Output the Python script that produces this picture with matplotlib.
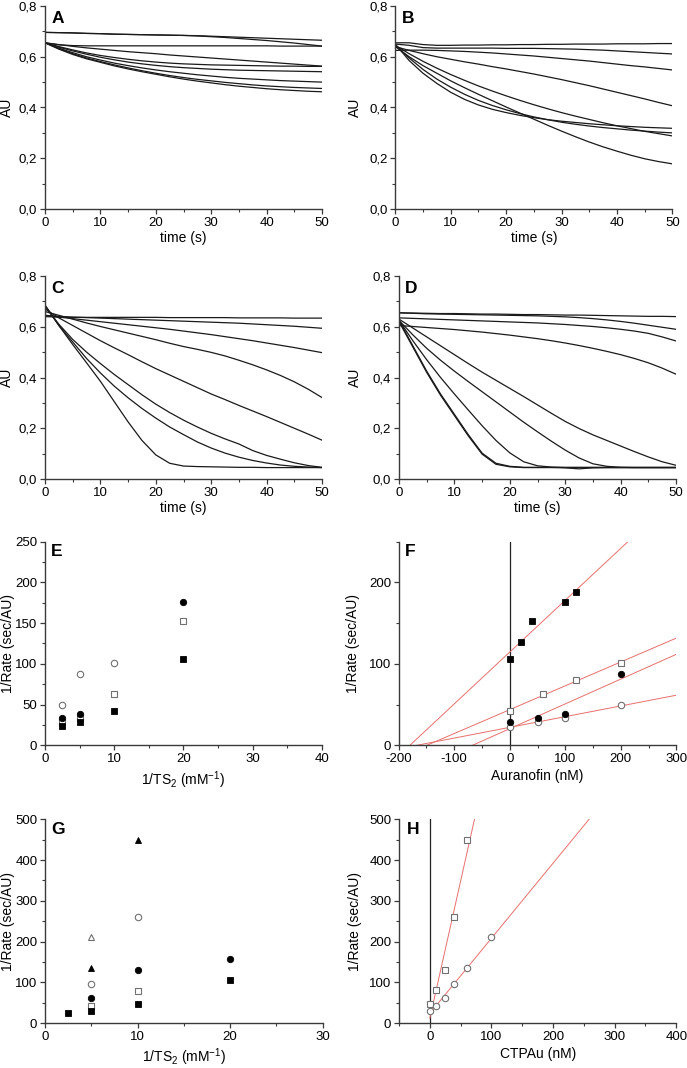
import numpy as np
import matplotlib
matplotlib.use("Agg")
import matplotlib.pyplot as plt
from matplotlib.ticker import MultipleLocator, FuncFormatter

plt.rcParams['font.family'] = ['Liberation Sans', 'DejaVu Sans']
plt.rcParams['mathtext.fontset'] = 'custom'
plt.rcParams['mathtext.rm'] = 'Liberation Sans'
plt.rcParams['mathtext.it'] = 'Liberation Sans'
plt.rcParams['axes.unicode_minus'] = False

# ---------------- data ----------------
time_s = [0, 2.5, 5, 7.5, 10, 12.5, 15, 17.5, 20, 22.5, 25, 27.5, 30, 32.5, 35, 37.5, 40, 42.5, 45, 47.5, 50]

traces_A = [
    [0.696,0.695,0.694,0.692,0.691,0.689,0.688,0.687,0.686,0.685,0.684,0.683,0.681,0.679,0.677,0.675,0.673,0.671,0.669,0.667,0.665],
    [0.696,0.695,0.694,0.692,0.691,0.689,0.688,0.687,0.686,0.685,0.684,0.682,0.679,0.676,0.672,0.668,0.664,0.659,0.654,0.648,0.642],
    [0.655,0.647,0.644,0.643,0.643,0.643,0.643,0.643,0.643,0.643,0.643,0.643,0.643,0.643,0.643,0.643,0.643,0.642,0.642,0.642,0.642],
    [0.655,0.648,0.641,0.635,0.630,0.625,0.620,0.616,0.612,0.607,0.603,0.599,0.595,0.591,0.587,0.583,0.579,0.575,0.571,0.567,0.563],
    [0.655,0.640,0.627,0.615,0.605,0.597,0.590,0.584,0.579,0.575,0.572,0.570,0.568,0.567,0.566,0.565,0.564,0.563,0.563,0.562,0.562],
    [0.655,0.638,0.623,0.610,0.598,0.588,0.579,0.572,0.566,0.561,0.557,0.554,0.551,0.549,0.547,0.546,0.545,0.544,0.543,0.542,0.541],
    [0.655,0.634,0.616,0.600,0.587,0.575,0.565,0.556,0.548,0.541,0.535,0.529,0.524,0.519,0.515,0.512,0.509,0.506,0.504,0.502,0.500],
    [0.655,0.632,0.612,0.595,0.581,0.568,0.556,0.545,0.535,0.526,0.518,0.511,0.505,0.499,0.494,0.489,0.485,0.482,0.479,0.477,0.475],
    [0.655,0.630,0.609,0.592,0.578,0.564,0.552,0.541,0.531,0.521,0.512,0.504,0.497,0.490,0.484,0.479,0.474,0.470,0.467,0.464,0.462],
]

traces_B = [
    [0.655,0.655,0.648,0.645,0.645,0.646,0.646,0.647,0.647,0.648,0.648,0.649,0.649,0.650,0.650,0.650,0.651,0.651,0.651,0.652,0.652],
    [0.650,0.645,0.636,0.634,0.634,0.634,0.634,0.634,0.633,0.633,0.633,0.632,0.631,0.630,0.628,0.626,0.623,0.620,0.617,0.614,0.611],
    [0.625,0.626,0.626,0.625,0.623,0.621,0.618,0.615,0.611,0.607,0.603,0.598,0.593,0.588,0.583,0.577,0.571,0.565,0.560,0.554,0.548],
    [0.640,0.625,0.612,0.600,0.590,0.580,0.571,0.561,0.552,0.542,0.532,0.521,0.510,0.498,0.486,0.473,0.460,0.447,0.434,0.420,0.407],
    [0.645,0.612,0.582,0.555,0.530,0.507,0.485,0.465,0.446,0.428,0.411,0.395,0.380,0.366,0.353,0.340,0.328,0.317,0.306,0.297,0.288],
    [0.650,0.585,0.535,0.495,0.460,0.432,0.410,0.393,0.380,0.369,0.360,0.352,0.346,0.341,0.336,0.332,0.328,0.325,0.322,0.320,0.318],
    [0.645,0.595,0.550,0.512,0.480,0.452,0.428,0.408,0.391,0.376,0.363,0.352,0.342,0.334,0.327,0.321,0.316,0.311,0.307,0.303,0.300],
    [0.640,0.600,0.565,0.535,0.505,0.478,0.452,0.427,0.402,0.378,0.354,0.330,0.307,0.285,0.264,0.245,0.228,0.212,0.198,0.187,0.178],
]

traces_C = [
    [0.640,0.638,0.637,0.637,0.637,0.637,0.637,0.637,0.637,0.636,0.636,0.636,0.636,0.636,0.635,0.635,0.635,0.635,0.634,0.634,0.634],
    [0.645,0.641,0.638,0.636,0.634,0.632,0.630,0.628,0.626,0.624,0.622,0.620,0.618,0.616,0.614,0.611,0.608,0.605,0.602,0.598,0.594],
    [0.645,0.638,0.632,0.626,0.620,0.614,0.608,0.602,0.596,0.590,0.583,0.576,0.569,0.561,0.553,0.545,0.536,0.527,0.518,0.508,0.498],
    [0.660,0.645,0.630,0.615,0.601,0.588,0.575,0.562,0.549,0.535,0.522,0.511,0.499,0.485,0.468,0.450,0.430,0.408,0.383,0.354,0.321],
    [0.670,0.635,0.605,0.575,0.545,0.517,0.490,0.462,0.435,0.410,0.385,0.360,0.335,0.313,0.290,0.268,0.246,0.223,0.200,0.177,0.153],
    [0.680,0.610,0.550,0.500,0.455,0.412,0.372,0.332,0.295,0.262,0.232,0.205,0.180,0.158,0.138,0.112,0.093,0.078,0.064,0.053,0.046],
    [0.685,0.605,0.540,0.475,0.418,0.366,0.320,0.278,0.240,0.205,0.175,0.146,0.122,0.102,0.086,0.073,0.063,0.055,0.050,0.047,0.045],
    [0.685,0.605,0.530,0.458,0.385,0.305,0.225,0.152,0.095,0.062,0.051,0.049,0.048,0.047,0.046,0.046,0.045,0.045,0.045,0.045,0.045],
]

traces_D = [
    [0.655,0.654,0.653,0.652,0.652,0.651,0.650,0.650,0.649,0.648,0.648,0.647,0.646,0.646,0.645,0.644,0.643,0.642,0.641,0.641,0.640],
    [0.655,0.653,0.651,0.650,0.649,0.648,0.647,0.646,0.645,0.644,0.643,0.641,0.639,0.636,0.632,0.627,0.621,0.614,0.606,0.598,0.590],
    [0.635,0.633,0.631,0.629,0.627,0.625,0.623,0.621,0.619,0.617,0.615,0.612,0.609,0.605,0.601,0.596,0.590,0.583,0.574,0.560,0.544],
    [0.605,0.601,0.597,0.593,0.589,0.584,0.579,0.573,0.567,0.560,0.553,0.545,0.536,0.526,0.515,0.503,0.490,0.475,0.458,0.437,0.413],
    [0.630,0.595,0.560,0.525,0.490,0.455,0.421,0.389,0.357,0.325,0.292,0.259,0.227,0.199,0.174,0.152,0.130,0.108,0.087,0.068,0.054],
    [0.625,0.568,0.515,0.468,0.425,0.384,0.344,0.304,0.264,0.224,0.186,0.149,0.114,0.083,0.060,0.050,0.046,0.045,0.045,0.045,0.045],
    [0.625,0.545,0.470,0.400,0.335,0.272,0.210,0.152,0.103,0.068,0.052,0.047,0.045,0.045,0.045,0.045,0.045,0.045,0.045,0.045,0.045],
    [0.620,0.520,0.420,0.330,0.250,0.170,0.098,0.058,0.048,0.045,0.045,0.045,0.044,0.040,0.044,0.045,0.045,0.045,0.045,0.045,0.045],
    [0.625,0.525,0.425,0.335,0.255,0.175,0.102,0.062,0.050,0.046,0.046,0.046,0.046,0.046,0.046,0.046,0.046,0.046,0.046,0.046,0.046],
]

# Panel E: 1/Rate vs 1/TS2
E_filled_sq_x = [2.5, 5, 10, 20];  E_filled_sq_y = [24, 28, 42, 106]
E_open_sq_x = [2.5, 5, 10, 20];    E_open_sq_y = [29, 34, 63, 152]
E_filled_ci_x = [2.5, 5, 20];      E_filled_ci_y = [34, 38, 176]
E_open_ci_x = [2.5, 5, 10];        E_open_ci_y = [49, 88, 101]

# Panel F: 1/Rate vs Auranofin
F_filled_sq_x = [0, 20, 40, 100, 120];  F_filled_sq_y = [106, 127, 153, 176, 188]
F_open_sq_x = [0, 60, 120, 200];        F_open_sq_y = [42, 63, 80, 101]
F_filled_ci_x = [0, 50, 100, 200];      F_filled_ci_y = [28, 34, 38, 88]
F_open_ci_x = [0, 50, 100, 200];        F_open_ci_y = [23, 28, 34, 49]

# Panel G: 1/Rate vs 1/TS2
G_filled_sq_x = [2.5, 5, 10, 20];  G_filled_sq_y = [24, 30, 46, 106]
G_open_sq_x = [5, 10];             G_open_sq_y = [42, 79]
G_filled_ci_x = [5, 10, 20];       G_filled_ci_y = [62, 131, 158]
G_open_ci_x = [5, 10];             G_open_ci_y = [96, 260]
G_filled_tri_x = [5, 10];          G_filled_tri_y = [136, 450]
G_open_tri_x = [5];                G_open_tri_y = [210]

# Panel H: 1/Rate vs CTPAu
H_open_sq_x = [0, 10, 25, 40, 60];        H_open_sq_y = [46, 80, 131, 260, 450]
H_open_ci_x = [0, 10, 25, 40, 60, 100];   H_open_ci_y = [30, 42, 62, 96, 135, 210]

# ---------------- figure ----------------
W, H = 687, 1068
fig = plt.figure(figsize=(W / 100, H / 100), dpi=100)

AXC = '#3a3a3a'
FS = 9.5      # tick labels
LFS = 10.0    # axis labels
PFS = 12.5    # panel letters
RED = '#e8706e'
GREY = '#707070'


def make_ax(l, t, r, b):
    ax = fig.add_axes([l / W, 1 - b / H, (r - l) / W, (b - t) / H])
    for s in ('top', 'right'):
        ax.spines[s].set_visible(False)
    for s in ('left', 'bottom'):
        ax.spines[s].set_color(AXC)
        ax.spines[s].set_linewidth(1.0)
    ax.tick_params(which='major', direction='out', length=3.5, width=0.9,
                   color=AXC, labelsize=FS, pad=2)
    ax.tick_params(which='minor', direction='out', length=2, width=0.8, color=AXC)
    return ax


def place_ylabel(ax, text, right_px):
    # right_px: pixel x of the right edge of the rotated label
    ax.set_ylabel(text, fontsize=LFS)
    bb = ax.get_position()
    x_ax = (right_px / W - bb.x0) / bb.width
    ax.yaxis.set_label_coords(x_ax, 0.5)


comma = FuncFormatter(lambda v, p: f"{v:.1f}".replace('.', ','))


def trace_panel(ax, traces, letter, ylab_right):
    for tr in traces:
        ax.plot(time_s, tr, color='#1a1a1a', lw=0.9)
    ax.set_xlim(0, 50)
    ax.set_ylim(0, 0.8)
    ax.xaxis.set_major_locator(MultipleLocator(10))
    ax.xaxis.set_minor_locator(MultipleLocator(5))
    ax.yaxis.set_major_locator(MultipleLocator(0.2))
    ax.yaxis.set_minor_locator(MultipleLocator(0.1))
    ax.yaxis.set_major_formatter(comma)
    ax.set_xlabel('time (s)', fontsize=LFS, labelpad=2)
    place_ylabel(ax, 'AU', ylab_right)
    ax.text(0.022, 0.975, letter, transform=ax.transAxes, fontsize=PFS,
            fontweight='bold', va='top', ha='left')


def mk(ax, x, y, marker, filled, ms=4.6):
    if filled:
        ax.plot(x, y, linestyle='none', marker=marker, ms=ms, mfc='black',
                mec='black', mew=0.6, zorder=4)
    else:
        ax.plot(x, y, linestyle='none', marker=marker, ms=ms, mfc='white',
                mec=GREY, mew=0.8, zorder=4)


def fit_line(ax, x, y, x0, x1):
    k, b = np.polyfit(x, y, 1)
    xs = np.array([x0, x1])
    ax.plot(xs, k * xs + b, color=RED, lw=0.7, zorder=2)


axA = make_ax(45, 6, 322, 209)
trace_panel(axA, traces_A, 'A', 14)
axB = make_ax(395.3, 6, 672.3, 209)
trace_panel(axB, traces_B, 'B', 362)
axC = make_ax(45, 276, 322, 479)
trace_panel(axC, traces_C, 'C', 14)
axD = make_ax(399, 276, 676, 479)
trace_panel(axD, traces_D, 'D', 362)

ylab = '1/Rate (sec/AU)'
xlab_ts = '1/TS$_2$ (mM$^{-1}$)'

# E
axE = make_ax(45, 541.5, 321.7, 745.3)
mk(axE, E_open_ci_x, E_open_ci_y, 'o', False)
mk(axE, E_open_sq_x, E_open_sq_y, 's', False, 4.2)
mk(axE, E_filled_ci_x, E_filled_ci_y, 'o', True)
mk(axE, E_filled_sq_x, E_filled_sq_y, 's', True, 4.2)
axE.set_xlim(0, 40); axE.set_ylim(0, 250)
axE.xaxis.set_major_locator(MultipleLocator(10)); axE.xaxis.set_minor_locator(MultipleLocator(5))
axE.yaxis.set_major_locator(MultipleLocator(50)); axE.yaxis.set_minor_locator(MultipleLocator(25))
axE.set_xlabel(xlab_ts, fontsize=LFS, labelpad=3)
place_ylabel(axE, ylab, 15)
axE.text(0.022, 0.99, 'E', transform=axE.transAxes, fontsize=PFS, fontweight='bold', va='top')

# F
axF = make_ax(398.7, 541.5, 676.3, 745.3)
axF.axvline(0, color='#222222', lw=0.9, zorder=1)
for xs, ys in ((F_filled_sq_x, F_filled_sq_y), (F_open_sq_x, F_open_sq_y),
               (F_filled_ci_x, F_filled_ci_y), (F_open_ci_x, F_open_ci_y)):
    fit_line(axF, xs, ys, -200, 300)
mk(axF, F_open_ci_x, F_open_ci_y, 'o', False)
mk(axF, F_open_sq_x, F_open_sq_y, 's', False, 4.2)
mk(axF, F_filled_ci_x, F_filled_ci_y, 'o', True)
mk(axF, F_filled_sq_x, F_filled_sq_y, 's', True, 4.2)
axF.set_xlim(-200, 300); axF.set_ylim(0, 250)
axF.xaxis.set_major_locator(MultipleLocator(100)); axF.xaxis.set_minor_locator(MultipleLocator(50))
axF.yaxis.set_major_locator(MultipleLocator(100)); axF.yaxis.set_minor_locator(MultipleLocator(50))
axF.set_xlabel('Auranofin (nM)', fontsize=LFS, labelpad=3)
place_ylabel(axF, ylab, 360)
axF.text(0.022, 0.99, 'F', transform=axF.transAxes, fontsize=PFS, fontweight='bold', va='top')

# G
axG = make_ax(45, 819.3, 322.7, 1023)
mk(axG, G_open_tri_x, G_open_tri_y, '^', False)
mk(axG, G_filled_tri_x, G_filled_tri_y, '^', True)
mk(axG, G_open_ci_x, G_open_ci_y, 'o', False)
mk(axG, G_filled_ci_x, G_filled_ci_y, 'o', True)
mk(axG, G_open_sq_x, G_open_sq_y, 's', False, 4.2)
mk(axG, G_filled_sq_x, G_filled_sq_y, 's', True, 4.2)
axG.set_xlim(0, 30); axG.set_ylim(0, 500)
axG.xaxis.set_major_locator(MultipleLocator(10)); axG.xaxis.set_minor_locator(MultipleLocator(5))
axG.yaxis.set_major_locator(MultipleLocator(100)); axG.yaxis.set_minor_locator(MultipleLocator(50))
axG.set_xlabel(xlab_ts, fontsize=LFS, labelpad=3)
place_ylabel(axG, ylab, 15)
axG.text(0.022, 0.985, 'G', transform=axG.transAxes, fontsize=PFS, fontweight='bold', va='top')

# H
axH = make_ax(399, 819.3, 676.3, 1023)
axH.axvline(0, color='#222222', lw=0.9, zorder=1)
fit_line(axH, H_open_sq_x, H_open_sq_y, 0, 400)
fit_line(axH, H_open_ci_x, H_open_ci_y, 0, 400)
mk(axH, H_open_sq_x, H_open_sq_y, 's', False, 4.2)
mk(axH, H_open_ci_x, H_open_ci_y, 'o', False)
axH.set_xlim(-50, 400); axH.set_ylim(0, 500)
axH.xaxis.set_major_locator(MultipleLocator(100)); axH.xaxis.set_minor_locator(MultipleLocator(50))
axH.yaxis.set_major_locator(MultipleLocator(100)); axH.yaxis.set_minor_locator(MultipleLocator(50))
axH.set_xlabel('CTPAu (nM)', fontsize=LFS, labelpad=3)
place_ylabel(axH, ylab, 362)
axH.text(0.03, 0.985, 'H', transform=axH.transAxes, fontsize=PFS, fontweight='bold', va='top')

fig.savefig('out.png', dpi=100)
